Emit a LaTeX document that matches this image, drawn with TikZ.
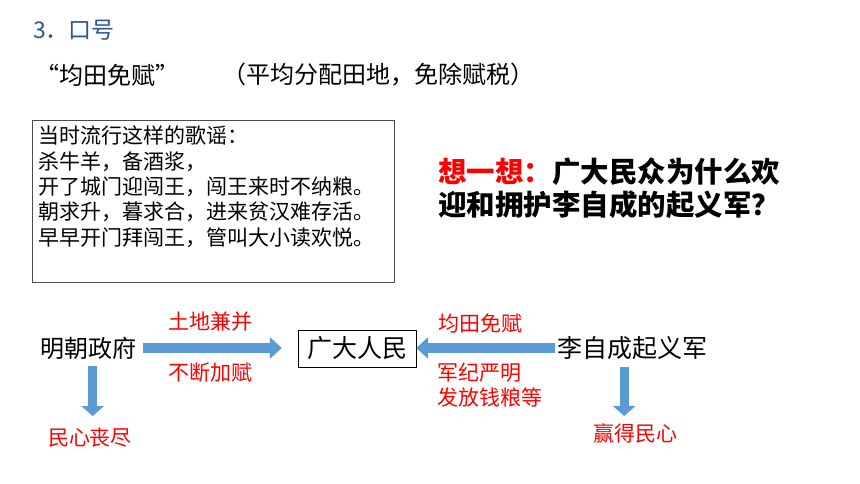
\documentclass[tikz,border=0pt]{standalone}
\usepackage{fontspec}
\setmainfont{Noto Sans CJK SC}
\usepackage{xcolor}
\usetikzlibrary{arrows.meta,positioning,calc}
\definecolor{titleblue}{RGB}{47,85,151}
\definecolor{arrowblue}{RGB}{91,155,213}

\begin{document}
\begin{tikzpicture}[x=1pt,y=-1pt,
  txt/.style={inner sep=0pt,anchor=west},
  redlbl/.style={inner sep=0pt,text=red,font=\fontsize{21}{25}\selectfont},
  big/.style={font=\fontsize{24}{24}\selectfont},
  fatarrow/.style={draw=arrowblue,line width=10pt,-{Triangle[length=12pt,width=21pt]}},
  downarrow/.style={draw=arrowblue,line width=9pt,-{Triangle[length=10pt,width=22pt]}}]
\useasboundingbox[fill=white] (0,0) rectangle (860,484);
% title and slogan
\node[txt,text=titleblue,font=\fontsize{23}{23}\selectfont] (title) at (33,30) {3．口号};
\node[txt,font=\fontsize{24}{24}\selectfont] (slogan) at (35,75) {“均田免赋”};
\node[txt,font=\fontsize{24}{24}\selectfont] (explain) at (222,75) {（平均分配田地，免除赋税）};
% folk song
\node[draw=black!70,inner sep=6pt,anchor=north west,font=\fontsize{21}{25.3}\selectfont] (geyao) at (32,120)
  {\parbox[t][150pt][t]{350pt}{当时流行这样的歌谣：\\杀牛羊，备酒浆，\\开了城门迎闯王，闯王来时不纳粮。\\朝求升，暮求合，进来贫汉难存活。\\早早开门拜闯王，管叫大小读欢悦。}};
% question
\node[txt,font=\bfseries\fontsize{28.5}{33}\selectfont,align=left] (xiang) at (438,188.5)
  {\textcolor{red}{想一想：}广大民众为什么欢\\迎和拥护李自成的起义军？};
% bottom row
\node[txt,big] (ming) at (40,348) {明朝政府};
\node[draw,inner sep=0pt,minimum width=118pt,minimum height=37pt,font=\fontsize{25}{25}\selectfont] (renmin) at (357,348.5) {广大人民};
\node[txt,font=\fontsize{25}{25}\selectfont] (lzc) at (557,348) {李自成起义军};
% red labels
\node[redlbl] (tudi) at (210,322) {土地兼并};
\node[redlbl] (buduan) at (210,373) {不断加赋};
\node[redlbl] (juntian) at (480,324) {均田免赋};
\node[redlbl,anchor=west,align=left] (junji) at (437,385.5) {军纪严明\\发放钱粮等};
\node[redlbl] (sangjin) at (90,438) {民心丧尽};
\node[redlbl] (yingde) at (635,433) {赢得民心};
% arrows
\draw[fatarrow,shorten <=7pt,shorten >=16pt] (ming.east) -- (ming.east -| renmin.west);
\draw[fatarrow,shorten <=2pt] (lzc.west) -- (lzc.west -| renmin.east);
\draw[downarrow,shorten <=7pt,shorten >=12pt] ([xshift=4.5pt]ming.south) -- ([xshift=4.5pt]ming.south |- sangjin.north);
\draw[downarrow,shorten <=7pt,shorten >=7pt] ([xshift=-8pt]lzc.south) -- ([xshift=-8pt]lzc.south |- yingde.north);
\end{tikzpicture}
\end{document}
